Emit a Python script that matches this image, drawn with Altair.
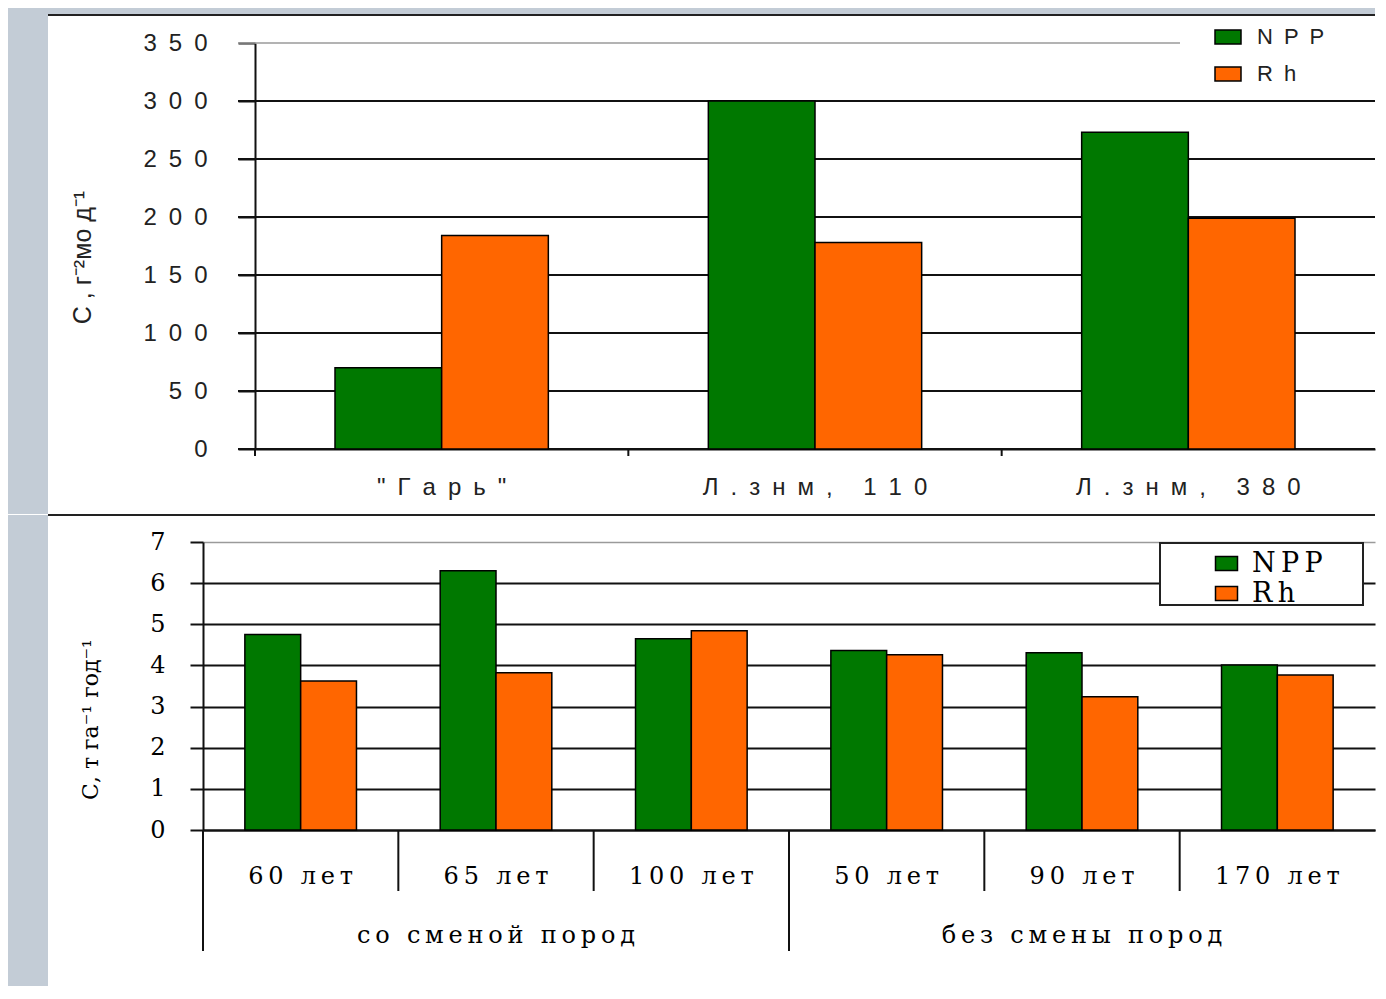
import altair as alt
import pandas as pd

# ---------------- data ----------------
SERIES = ["NPP", "Rh"]
COLORS = ["#007800", "#ff6600"]

TOP_CATS = ['"Гарь"', "Л.знм, 110", "Л.знм, 380"]
TOP_NPP = [70, 300, 273]
TOP_RH = [184, 178, 199]
TOP_TICKS = [0, 50, 100, 150, 200, 250, 300, 350]
TOP_YTITLE = "С , г⁻²мо д⁻¹"

BOT_AGES = ["60 лет", "65 лет", "100 лет", "50 лет", "90 лет", "170 лет"]
BOT_GROUPS = ["со сменой пород"] * 3 + ["без смены пород"] * 3
BOT_NPP = [4.75, 6.30, 4.65, 4.36, 4.31, 4.01]
BOT_RH = [3.62, 3.82, 4.84, 4.26, 3.24, 3.77]
BOT_TICKS = [0, 1, 2, 3, 4, 5, 6, 7]
BOT_YTITLE = "С, т га⁻¹ год⁻¹"

# ---------------- styling ----------------
SANS = "Liberation Sans"
SERIF = "DejaVu Serif"
EN = "\u2002"
THIN = "\u2009"
STRIP = "#c3ccd6"
INK = "#111111"

X0 = 203                 # page x of both plot origins
W = 1172                 # plot width (both panels)
TOP_SHIFT = 52           # top panel axis starts 52px right of origin
TOP_Y0, TH = 43, 406
BOT_Y0, BH = 541, 288

top_df = pd.DataFrame({
    "cat": TOP_CATS * 2,
    "series": [SERIES[0]] * len(TOP_CATS) + [SERIES[1]] * len(TOP_CATS),
    "value": TOP_NPP + TOP_RH,
})
bot_df = pd.DataFrame({
    "age": BOT_AGES * 2,
    "series": [SERIES[0]] * len(BOT_AGES) + [SERIES[1]] * len(BOT_AGES),
    "value": BOT_NPP + BOT_RH,
})

groups = []
for g in BOT_GROUPS:
    if g not in groups:
        groups.append(g)
grp_rows, first_rows = [], []
for g in groups:
    members = [a for a, gg in zip(BOT_AGES, BOT_GROUPS) if gg == g]
    grp_rows.append({"grp": g, "age": members[len(members) // 2]})
    first_rows.append({"age": members[0]})
grp_df = pd.DataFrame(grp_rows)
first_df = pd.DataFrame(first_rows)
ages_df = pd.DataFrame({"age": BOT_AGES})
cats_df = pd.DataFrame({"cat": TOP_CATS})
grid_top_df = pd.DataFrame({"value": TOP_TICKS[:-1]})
grid_top_last = pd.DataFrame({"value": TOP_TICKS[-1:]})

one = pd.DataFrame({"k": [0]})
color_scale = alt.Scale(domain=SERIES, range=COLORS)


def vrect(x1, x2, y1, y2, fill, stroke=None, sw=0):
    kw = dict(fill=fill)
    if stroke is not None:
        kw.update(stroke=stroke, strokeWidth=sw)
    else:
        kw.update(strokeWidth=0)
    return alt.Chart(one).mark_rect(**kw).encode(
        x=alt.value(x1), x2=alt.value(x2), y=alt.value(y1), y2=alt.value(y2))


def hrule(x1, x2, y, color=INK, sw=2):
    return alt.Chart(one).mark_rule(color=color, strokeWidth=sw).encode(
        x=alt.value(x1), x2=alt.value(x2), y=alt.value(y))


def spaced(sep, field="datum.label"):
    return f"join(split({field}, ''), '{sep}')"


# ---------------- top panel ----------------
top_x_scale = alt.Scale(domain=TOP_CATS, range=[TOP_SHIFT, W], paddingInner=0, paddingOuter=0)
top_x_axis = alt.Axis(title=None, labelAngle=0, labelExpr=spaced(EN), labelLimit=600,
                      labelFont=SANS, labelFontSize=24, labelColor="#222222",
                      labelPadding=26, ticks=False, tickSize=0,
                      domain=True, domainColor=INK, domainWidth=2, grid=False)
top_y_scale = alt.Scale(domain=[0, 350], nice=False)
top_y_axis = alt.Axis(title=TOP_YTITLE, values=TOP_TICKS, grid=False, offset=-TOP_SHIFT,
                      tickSize=17, tickColor=INK, tickWidth=2,
                      domainColor=INK, domainWidth=2,
                      labelFont=SANS, labelFontSize=24, labelColor="#222222",
                      labelPadding=31, labelExpr=spaced(EN),
                      titleFont=SANS, titleFontSize=25, titleFontWeight="normal",
                      titleColor="#222222", titleX=82 - 255, titleY=257 - TOP_Y0,
                      titleAlign="center", titleBaseline="middle")

t_strip_l = vrect(8 - X0, 48 - X0, 8 - TOP_Y0, 514 - TOP_Y0, STRIP)
t_strip_t = vrect(48 - X0, W, 8 - TOP_Y0, 15 - TOP_Y0, STRIP)
t_border = hrule(48 - X0, W, 15 - TOP_Y0, "#222222", 2)

t_grid = alt.Chart(grid_top_df).mark_rule(color=INK, strokeWidth=2).encode(
    x=alt.value(238 - X0), x2=alt.value(W),
    y=alt.Y("value:Q", scale=top_y_scale, axis=top_y_axis))
t_grid_top = alt.Chart(grid_top_last).mark_rule(color="#9a9a9a", strokeWidth=1.5).encode(
    x=alt.value(238 - X0), x2=alt.value(1180 - X0),
    y=alt.Y("value:Q", scale=top_y_scale, axis=top_y_axis))

t_bars = alt.Chart(top_df).mark_bar(stroke="black", strokeWidth=1.5).encode(
    x=alt.X("cat:N", scale=top_x_scale, axis=top_x_axis),
    xOffset=alt.XOffset("series:N", sort=SERIES,
                        scale=alt.Scale(paddingOuter=0.75, paddingInner=0)),
    y=alt.Y("value:Q", scale=top_y_scale, axis=top_y_axis),
    color=alt.Color("series:N", scale=color_scale,
                    legend=alt.Legend(title=None, orient="none",
                                      legendX=1214 - X0, legendY=-20,
                                      direction="vertical",
                                      symbolType="M-1,-0.54H1V0.54H-1Z", symbolSize=676,
                                      symbolStrokeColor="black", symbolStrokeWidth=1.5,
                                      labelFont=SANS, labelFontSize=22, labelColor="#222222",
                                      labelOffset=15, rowPadding=12, padding=0,
                                      labelExpr=spaced(EN))),
)

t_seps = alt.Chart(cats_df).mark_rule(color=INK, strokeWidth=2).encode(
    x=alt.X("cat:N", scale=top_x_scale, axis=top_x_axis, bandPosition=0),
    y=alt.value(TH), y2=alt.value(TH + 7))

top = alt.layer(t_strip_l, t_strip_t, t_grid, t_grid_top, t_bars, t_seps, t_border).properties(
    width=W, height=TH)

# ---------------- bottom panel ----------------
bot_x_scale = alt.Scale(domain=BOT_AGES, paddingInner=0, paddingOuter=0)
bot_x_axis = alt.Axis(title=None, labelAngle=0, labelExpr=spaced(THIN), labelLimit=600,
                      labelFont=SERIF, labelFontSize=24, labelColor="black",
                      labelPadding=34, ticks=False, tickSize=0,
                      domain=True, domainColor=INK, domainWidth=2, grid=False)

b_strip_l = vrect(8 - X0, 48 - X0, 514 - BOT_Y0, 985 - BOT_Y0, STRIP)
b_border = hrule(48 - X0, W, 514 - BOT_Y0, "#222222", 2)
b_legbox = vrect(1160 - X0, 1363 - X0, 542 - BOT_Y0, 604 - BOT_Y0, "white", "#222222", 2)

b_bars = alt.Chart(bot_df).mark_bar(stroke="black", strokeWidth=1.5).encode(
    x=alt.X("age:N", scale=bot_x_scale, axis=bot_x_axis),
    xOffset=alt.XOffset("series:N", sort=SERIES,
                        scale=alt.Scale(paddingOuter=0.75, paddingInner=0)),
    y=alt.Y("value:Q", scale=alt.Scale(domain=[0, 7], nice=False),
            axis=alt.Axis(title=BOT_YTITLE, values=BOT_TICKS, grid=True,
                          gridColor={"condition": {"test": "datum.value === 7", "value": "#9a9a9a"}, "value": INK},
                          gridWidth={"condition": {"test": "datum.value === 7", "value": 1.5}, "value": 2},
                          tickSize=13, tickColor=INK, tickWidth=2,
                          domainColor=INK, domainWidth=2,
                          labelFont=SERIF, labelFontSize=24, labelColor="black",
                          labelPadding=25,
                          titleFont=SERIF, titleFontSize=22, titleFontWeight="normal",
                          titleColor="black", titleX=90 - X0, titleY=718 - BOT_Y0,
                          titleAlign="center", titleBaseline="middle")),
    color=alt.Color("series:N", scale=color_scale,
                    legend=alt.Legend(title=None, orient="none",
                                      legendX=1213 - X0, legendY=8,
                                      direction="vertical",
                                      symbolType="M-1,-0.636H1V0.636H-1Z", symbolSize=484,
                                      symbolStrokeColor="black", symbolStrokeWidth=1.5,
                                      labelFont=SERIF, labelFontSize=27, labelColor="black",
                                      labelOffset=12, rowPadding=2, padding=0,
                                      labelExpr=spaced(THIN))),
)

b_seps = alt.Chart(ages_df).mark_rule(color=INK, strokeWidth=2).encode(
    x=alt.X("age:N", scale=bot_x_scale, axis=bot_x_axis, bandPosition=0),
    y=alt.value(BH), y2=alt.value(BH + 61))
b_outer = alt.Chart(first_df).mark_rule(color=INK, strokeWidth=2).encode(
    x=alt.X("age:N", scale=bot_x_scale, axis=bot_x_axis, bandPosition=0),
    y=alt.value(BH), y2=alt.value(BH + 121))
b_groups = alt.Chart(grp_df).transform_calculate(
    lbl=spaced(THIN, "datum.grp")
).mark_text(font=SERIF, fontSize=24, color="black", baseline="middle", align="center").encode(
    x=alt.X("age:N", scale=bot_x_scale, axis=bot_x_axis),
    y=alt.value(935 - BOT_Y0),
    text="lbl:N")

bottom = alt.layer(b_strip_l, b_border, b_legbox, b_bars, b_seps, b_outer, b_groups).properties(
    width=W, height=BH)

chart = alt.vconcat(top, bottom, spacing=0).resolve_scale(
    color="independent", x="independent", y="independent", xOffset="independent"
).resolve_legend(color="independent").properties(
    padding=0, background="white"
).configure_view(stroke=None)

chart.save("out.html", embed_options={"renderer": "svg", "actions": False})
